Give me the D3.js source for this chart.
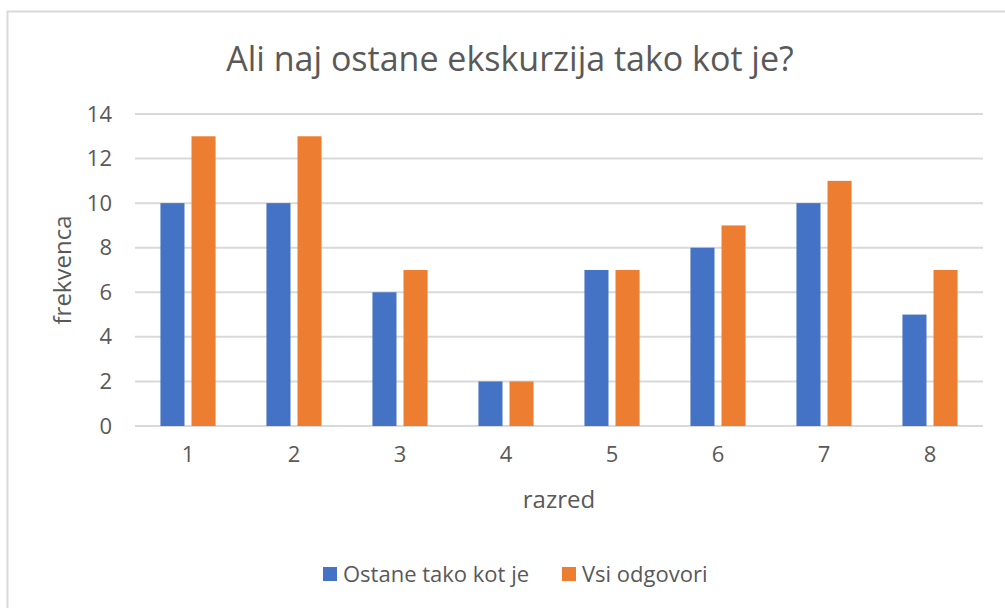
<!DOCTYPE html>
<html>
<head>
<meta charset="utf-8">
<script src="https://cdn.jsdelivr.net/npm/d3@7"></script>
<style>
  body { margin: 0; background: #fff; }
  text { font-family: "Open Sans", "Noto Sans", sans-serif; fill: #595959; }
</style>
</head>
<body>
<div id="chart"></div>
<script>
const razredi = ["1", "2", "3", "4", "5", "6", "7", "8"];
const ostane = [10, 10, 6, 2, 7, 8, 10, 5];
const vsi = [13, 13, 7, 2, 7, 9, 11, 7];
const serije = ["Ostane tako kot je", "Vsi odgovori"];
const barve = ["#4472c4", "#ed7d31"];
const yTicks = [0, 2, 4, 6, 8, 10, 12, 14];

const W = 1005, H = 608;
const margin = {top: 114, right: 22, bottom: 182, left: 135};
const width = W - margin.left - margin.right,
      height = H - margin.top - margin.bottom;

const svg = d3.select("#chart")
  .append("svg")
    .attr("width", W)
    .attr("height", H);

// chart border (only left and top visible in the crop)
svg.append("rect")
  .attr("x", 7.5).attr("y", 11.5)
  .attr("width", 1020).attr("height", 620)
  .attr("fill", "none")
  .attr("stroke", "#d9d9d9")
  .attr("stroke-width", 2);

const g = svg.append("g")
  .attr("transform", `translate(${margin.left},${margin.top})`);

const x = d3.scaleBand()
  .domain(razredi)
  .range([0, width])
  .paddingInner(0.48)
  .paddingOuter(0.24);

const x1 = d3.scaleBand()
  .domain(serije)
  .range([0, x.bandwidth()])
  .paddingInner(0.226);

const y = d3.scaleLinear()
  .domain([0, 14])
  .range([height, 0]);

// gridlines
g.append("g")
  .selectAll("line")
  .data(yTicks)
  .join("line")
    .attr("x1", 0).attr("x2", width)
    .attr("y1", d => y(d)).attr("y2", d => y(d))
    .attr("stroke", "#d9d9d9")
    .attr("stroke-width", 2);

// y axis labels
const yAxis = g.append("g")
  .call(d3.axisLeft(y).tickValues(yTicks).tickSize(0).tickPadding(23));
yAxis.select(".domain").remove();
yAxis.selectAll("text")
  .style("font-size", "22px")
  .attr("fill", "#595959");

// x axis labels
const xAxis = g.append("g")
  .attr("transform", `translate(0,${height})`)
  .call(d3.axisBottom(x).tickSize(0).tickPadding(20));
xAxis.select(".domain").remove();
xAxis.selectAll("text")
  .style("font-size", "22px")
  .attr("fill", "#595959");

// bars
const groups = g.append("g")
  .selectAll("g")
  .data(razredi.map((r, i) => ({r, vals: [ostane[i], vsi[i]]})))
  .join("g")
    .attr("transform", d => `translate(${x(d.r)},0)`);

groups.selectAll("rect")
  .data(d => d.vals.map((v, j) => ({s: serije[j], v, c: barve[j]})))
  .join("rect")
    .attr("x", d => x1(d.s))
    .attr("y", d => y(d.v))
    .attr("width", x1.bandwidth())
    .attr("height", d => y(0) - y(d.v))
    .attr("fill", d => d.c);

// Title
svg.append("text")
  .attr("x", 510)
  .attr("y", 71)
  .attr("text-anchor", "middle")
  .style("font-size", "34px")
  .text("Ali naj ostane ekskurzija tako kot je?");

// Y label
svg.append("text")
  .attr("text-anchor", "middle")
  .attr("transform", `translate(71,${margin.top + height / 2})rotate(-90)`)
  .style("font-size", "24px")
  .text("frekvenca");

// X label
svg.append("text")
  .attr("x", margin.left + width / 2)
  .attr("y", 508)
  .attr("text-anchor", "middle")
  .style("font-size", "24px")
  .text("razred");

// legend
const legend = svg.append("g");
const legX = [323, 562];
serije.forEach((s, i) => {
  legend.append("rect")
    .attr("x", legX[i]).attr("y", 567)
    .attr("width", 14).attr("height", 14)
    .attr("fill", barve[i]);
  legend.append("text")
    .attr("x", legX[i] + 20)
    .attr("y", 582)
    .style("font-size", "22px")
    .text(s);
});
</script>
</body>
</html>
